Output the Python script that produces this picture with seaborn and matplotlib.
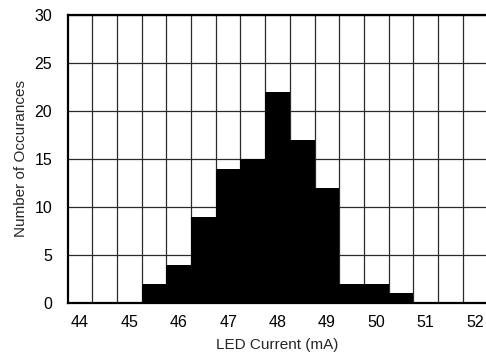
import numpy as np
import pandas as pd
import matplotlib
matplotlib.use('Agg')
import matplotlib.pyplot as plt
import seaborn as sns

# histogram of LED current, bins 0.5 mA wide
bin_centers = [45.5, 46.0, 46.5, 47.0, 47.5, 48.0, 48.5, 49.0, 49.5, 50.0, 50.5]
counts = [2, 4, 9, 14, 15, 22, 17, 12, 2, 2, 1]
x_ticks = [44, 45, 46, 47, 48, 49, 50, 51, 52]
y_ticks = [0, 5, 10, 15, 20, 25, 30]

df = pd.DataFrame({'current': bin_centers, 'count': counts})

sns.set_style('white')
plt.rcParams['font.family'] = ['Liberation Sans', 'DejaVu Sans']

fig = plt.figure(figsize=(4.86, 3.56), dpi=100)
ax = fig.add_axes([0.139, 0.149, 0.864, 0.809])

sns.histplot(data=df, x='current', weights='count', binwidth=0.5,
             binrange=(45.25, 50.75), color='black',
             alpha=1, edgecolor='black', linewidth=0, ax=ax)

ax.set_xlim(43.75, 52.25)
ax.set_ylim(0, 30)
ax.set_xticks(x_ticks)
ax.set_xticks(np.arange(44.25, 52.0, 0.5), minor=True)
ax.set_yticks(y_ticks)
ax.set_axisbelow(True)
ax.grid(False)
ax.grid(True, which='minor', axis='x', color='#2a2a2a', linewidth=0.9)
ax.grid(True, which='major', axis='y', color='#2a2a2a', linewidth=0.9)
ax.tick_params(which='both', length=0, labelsize=11.5, colors='black')
ax.tick_params(axis='x', pad=8.5)
ax.tick_params(axis='y', pad=11)

for s in ['left', 'top', 'bottom']:
    ax.spines[s].set_color('black')
    ax.spines[s].set_linewidth(1.6)
ax.spines['right'].set_visible(False)

ax.set_xlabel('LED Current (mA)', fontsize=11, labelpad=6)
ax.set_ylabel('Number of Occurances', fontsize=11, labelpad=5)

plt.savefig('out.png', dpi=100)
